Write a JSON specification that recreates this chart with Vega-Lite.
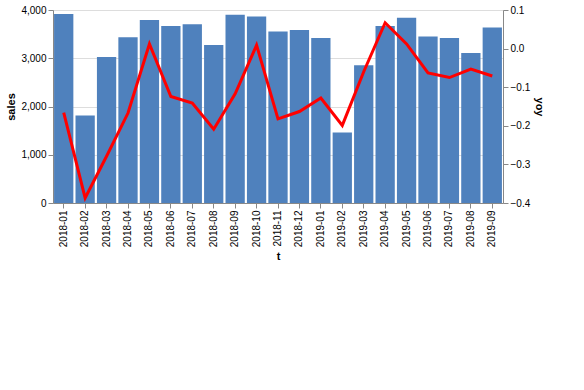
{
  "$schema": "https://vega.github.io/schema/vega-lite/v6.json",
  "width": 450,
  "height": 193,
  "data": {"values": [
    {"t": "2018-01", "sales": 3917, "yoy": -0.166},
    {"t": "2018-02", "sales": 1815, "yoy": -0.387},
    {"t": "2018-03", "sales": 3025, "yoy": -0.279},
    {"t": "2018-04", "sales": 3437, "yoy": -0.167},
    {"t": "2018-05", "sales": 3793, "yoy": 0.012},
    {"t": "2018-06", "sales": 3670, "yoy": -0.124},
    {"t": "2018-07", "sales": 3707, "yoy": -0.141},
    {"t": "2018-08", "sales": 3273, "yoy": -0.209},
    {"t": "2018-09", "sales": 3903, "yoy": -0.117},
    {"t": "2018-10", "sales": 3863, "yoy": 0.009},
    {"t": "2018-11", "sales": 3553, "yoy": -0.182},
    {"t": "2018-12", "sales": 3584, "yoy": -0.163},
    {"t": "2019-01", "sales": 3420, "yoy": -0.128},
    {"t": "2019-02", "sales": 1462, "yoy": -0.199},
    {"t": "2019-03", "sales": 2854, "yoy": -0.060},
    {"t": "2019-04", "sales": 3670, "yoy": 0.067},
    {"t": "2019-05", "sales": 3840, "yoy": 0.012},
    {"t": "2019-06", "sales": 3451, "yoy": -0.063},
    {"t": "2019-07", "sales": 3420, "yoy": -0.075},
    {"t": "2019-08", "sales": 3110, "yoy": -0.053},
    {"t": "2019-09", "sales": 3638, "yoy": -0.071}
  ]},
  "encoding": {
    "x": {"field": "t", "type": "ordinal", "sort": null}
  },
  "layer": [
    {
      "mark": {"type": "bar", "color": "#4F81BD"},
      "encoding": {"y": {"field": "sales", "type": "quantitative"}}
    },
    {
      "mark": {"type": "line", "color": "#FF0000", "strokeWidth": 3},
      "encoding": {"y": {"field": "yoy", "type": "quantitative", "axis": {"orient": "right"}}}
    }
  ],
  "resolve": {"scale": {"y": "independent"}}
}
